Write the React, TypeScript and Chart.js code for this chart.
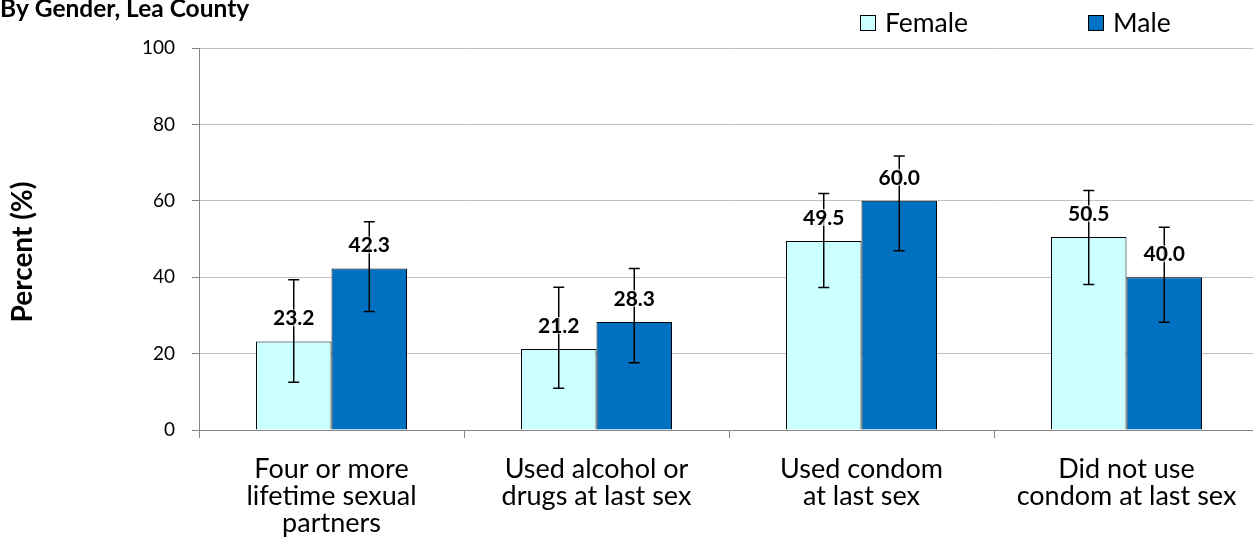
import React, { useEffect, useRef } from "react";
import { Chart, registerables } from "chart.js";

Chart.register(...registerables);

const categories: string[][] = [
  ["Four or more", "lifetime sexual", "partners"],
  ["Used alcohol or", "drugs at last sex"],
  ["Used condom", "at last sex"],
  ["Did not use", "condom at last sex"],
];
const femaleValues = [23.2, 21.2, 49.5, 50.5];
const maleValues = [42.3, 28.3, 60.0, 40.0];
const femaleLower = [12.5, 10.9, 37.3, 38.1];
const femaleUpper = [39.3, 37.4, 61.9, 62.7];
const maleLower = [31.0, 17.6, 46.9, 28.2];
const maleUpper = [54.5, 42.3, 71.7, 53.1];
const yTicks = [0, 20, 40, 60, 80, 100];

const FONT = "Lato, 'Open Sans', sans-serif";
const W = 1265;
const H = 552;

const overlayPlugin = {
  id: "overlay",
  afterDatasetsDraw(chart: any) {
    const ctx = chart.ctx;
    const yScale = chart.scales.y;
    const lows = [femaleLower, maleLower];
    const highs = [femaleUpper, maleUpper];
    const vals = [femaleValues, maleValues];
    ctx.save();
    // error bars
    for (let d = 0; d < 2; d++) {
      const meta = chart.getDatasetMeta(d);
      meta.data.forEach((bar: any, i: number) => {
        const x = bar.x;
        const yl = yScale.getPixelForValue(lows[d][i]);
        const yh = yScale.getPixelForValue(highs[d][i]);
        ctx.strokeStyle = "#000";
        ctx.lineWidth = 1.5;
        ctx.beginPath();
        ctx.moveTo(x, yl);
        ctx.lineTo(x, yh);
        ctx.moveTo(x - 5.5, yl);
        ctx.lineTo(x + 5.5, yl);
        ctx.moveTo(x - 5.5, yh);
        ctx.lineTo(x + 5.5, yh);
        ctx.stroke();
      });
    }
    // data labels
    ctx.font = `bold 21px ${FONT}`;
    ctx.textAlign = "center";
    ctx.textBaseline = "alphabetic";
    for (let d = 0; d < 2; d++) {
      const meta = chart.getDatasetMeta(d);
      meta.data.forEach((bar: any, i: number) => {
        const text = vals[d][i].toFixed(1);
        const yb = bar.y - 16;
        const w = ctx.measureText(text).width;
        ctx.fillStyle = "rgba(255,255,255,0.6)";
        ctx.fillRect(bar.x - w / 2, yb - 16, w, 17);
        ctx.fillStyle = "#000";
        ctx.fillText(text, bar.x, yb);
      });
    }
    ctx.restore();
  },
  afterDraw(chart: any) {
    const ctx = chart.ctx;
    ctx.save();
    // title
    ctx.fillStyle = "#000";
    ctx.font = `bold 24.5px ${FONT}`;
    ctx.textAlign = "left";
    ctx.textBaseline = "alphabetic";
    ctx.fillText("By Gender, Lea County", 0, 17);
    // y title
    ctx.save();
    ctx.translate(23, 252);
    ctx.rotate(-Math.PI / 2);
    ctx.textAlign = "center";
    ctx.textBaseline = "middle";
    ctx.font = `bold 28px ${FONT}`;
    ctx.fillText("Percent (%)", 0, 0);
    ctx.restore();
    // legend
    const items = [
      { label: "Female", color: "#CCFFFF", x: 860 },
      { label: "Male", color: "#0070C0", x: 1088 },
    ];
    ctx.font = `26.5px ${FONT}`;
    ctx.textAlign = "left";
    ctx.textBaseline = "middle";
    items.forEach((it) => {
      ctx.fillStyle = it.color;
      ctx.fillRect(it.x + 0.5, 15.5, 15, 15);
      ctx.strokeStyle = "#000";
      ctx.lineWidth = 1;
      ctx.strokeRect(it.x + 0.5, 15.5, 15, 15);
      ctx.fillStyle = "#000";
      ctx.fillText(it.label, it.x + 25, 23);
    });
    ctx.restore();
  },
};

export default function App() {
  const ref = useRef<HTMLCanvasElement>(null);
  useEffect(() => {
    if (!ref.current) return;
    const chart = new Chart(ref.current, {
      type: "bar",
      data: {
        labels: categories,
        datasets: [
          {
            label: "Female",
            data: femaleValues,
            backgroundColor: "#CCFFFF",
            borderColor: "#000",
            borderWidth: 1,
          },
          {
            label: "Male",
            data: maleValues,
            backgroundColor: "#0070C0",
            borderColor: "#000",
            borderWidth: 1,
          },
        ],
      },
      options: {
        responsive: false,
        animation: false,
        devicePixelRatio: 1,
        layout: { padding: { top: 48, right: 6, left: 0, bottom: 0 } },
        datasets: { bar: { barPercentage: 1, categoryPercentage: 0.57 } },
        plugins: { legend: { display: false }, tooltip: { enabled: false } },
        scales: {
          x: {
            grid: {
              drawOnChartArea: false,
              offset: true,
              tickLength: 8,
              color: "#868686",
            },
            border: { color: "#868686" },
            ticks: {
              color: "#000",
              font: { family: FONT, size: 27, lineHeight: 1.0 },
              padding: 18,
              maxRotation: 0,
              autoSkip: false,
            },
            afterFit: (s: any) => {
              s.height = 122;
            },
          },
          y: {
            min: 0,
            max: 100,
            afterBuildTicks: (s: any) => {
              s.ticks = yTicks.map((v) => ({ value: v }));
            },
            grid: { color: "#c0c0c0", tickLength: 7, tickColor: "#868686" },
            border: { color: "#868686" },
            ticks: {
              color: "#000",
              font: { family: FONT, size: 19 },
              padding: 17,
            },
            afterFit: (s: any) => {
              s.width = 199;
            },
          },
        },
      },
      plugins: [overlayPlugin],
    });
    return () => chart.destroy();
  }, []);
  return (
    <div
      style={{
        position: "fixed",
        left: 0,
        top: 0,
        width: 1253,
        height: 552,
        overflow: "hidden",
        background: "#fff",
      }}
    >
      <canvas ref={ref} width={W} height={H} style={{ width: W, height: H, display: "block" }} />
    </div>
  );
}
